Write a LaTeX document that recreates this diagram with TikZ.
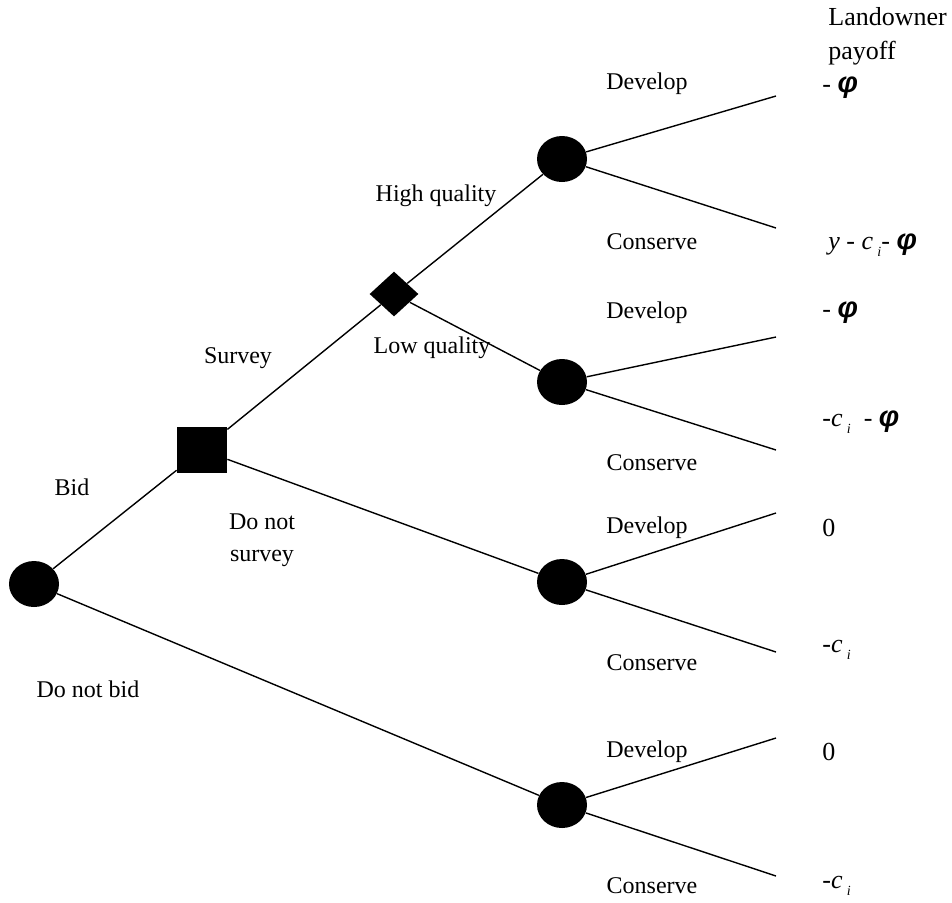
\documentclass[tikz,border=0pt]{standalone}
\usepackage{fontspec}
\setmainfont{Liberation Serif}
\newfontfamily\phifont{Liberation Sans}
\usetikzlibrary{shapes.geometric}

\newcommand{\phisym}{{\phifont\fontsize{14.5}{16}\selectfont\bfseries\itshape φ}}
\newcommand{\cisym}{\textit{c}\,\raisebox{-0.55ex}{\scriptsize\textit{i}}}

\tikzset{
  chance/.style={ellipse, fill=black, inner sep=0pt, minimum width=25pt, minimum height=23pt},
  decision/.style={rectangle, fill=black, inner sep=0pt, minimum width=25pt, minimum height=23pt},
  nature/.style={diamond, fill=black, inner sep=0pt, minimum width=24.5pt, minimum height=22.5pt},
  lbl/.style={font=\fontsize{12}{16}\selectfont, inner sep=0pt},
  pay/.style={font=\fontsize{13}{16}\selectfont, inner sep=0pt, anchor=west},
  branch/.style={line width=0.7pt}
}

\begin{document}
\begin{tikzpicture}[x=0.5pt, y=-0.5pt]
\useasboundingbox (0,0) rectangle (952,902);

% Nodes.
\node[chance] (root) at (34,584) {};
\node[decision] (sv) at (202,450) {};
\node[nature] (hq) at (394,294) {};
\node[chance] (c1) at (562,159) {};
\node[chance] (c2) at (562,382) {};
\node[chance] (c3) at (562,582) {};
\node[chance] (c4) at (562,805) {};

% Leaves.
\coordinate (e1a) at (776,96);
\coordinate (e1b) at (776,228);
\coordinate (e2a) at (776,337);
\coordinate (e2b) at (776,450);
\coordinate (e3a) at (776,513);
\coordinate (e3b) at (776,652);
\coordinate (e4a) at (776,738);
\coordinate (e4b) at (776,876);

% Branches.
\draw[branch] (root) -- (sv);
\draw[branch] (root) -- (c4);
\draw[branch] (sv) -- (hq);
\draw[branch] (sv) -- (c3);
\draw[branch] (hq) -- (c1);
\draw[branch] (hq) -- (c2);
\foreach \c in {1,2,3,4} {
  \draw[branch] (c\c) -- (e\c a);
  \draw[branch] (c\c) -- (e\c b);
}

% Branch labels.
\node[lbl] (lbid) at (72,487) {Bid};
\node[lbl] (lnobid) at (88,689) {Do not bid};
\node[lbl] (lsurvey) at (238,358) {Survey};
\node[lbl, align=center] (lnosurvey) at (262,540) {Do not\\survey};
\node[lbl] (lhigh) at (436,196) {High quality};
\node[lbl] (llow) at (432,348) {Low quality};
\foreach \c/\yd/\yc in {1/84/242, 2/313/463, 3/528/663, 4/752/886} {
  \node[lbl] (dev\c) at (647,\yd) {Develop};
  \node[lbl] (con\c) at (652,\yc) {Conserve};
}

% Payoffs.
\node[pay, align=left, font=\fontsize{13}{17}\selectfont] (head) at (828,36) {Landowner\\payoff};
\node[pay] (p1) at (822,88) {- \phisym};
\node[pay] (p2) at (828,245) {\textit{y} - \cisym- \phisym};
\node[pay] (p3) at (822,313) {- \phisym};
\node[pay] (p4) at (822,422) {-\cisym\ \ - \phisym};
\node[pay] (p5) at (822,528) {0};
\node[pay] (p6) at (822,650) {-\cisym};
\node[pay] (p7) at (822,752) {0};
\node[pay] (p8) at (822,886) {-\cisym};
\end{tikzpicture}
\end{document}
